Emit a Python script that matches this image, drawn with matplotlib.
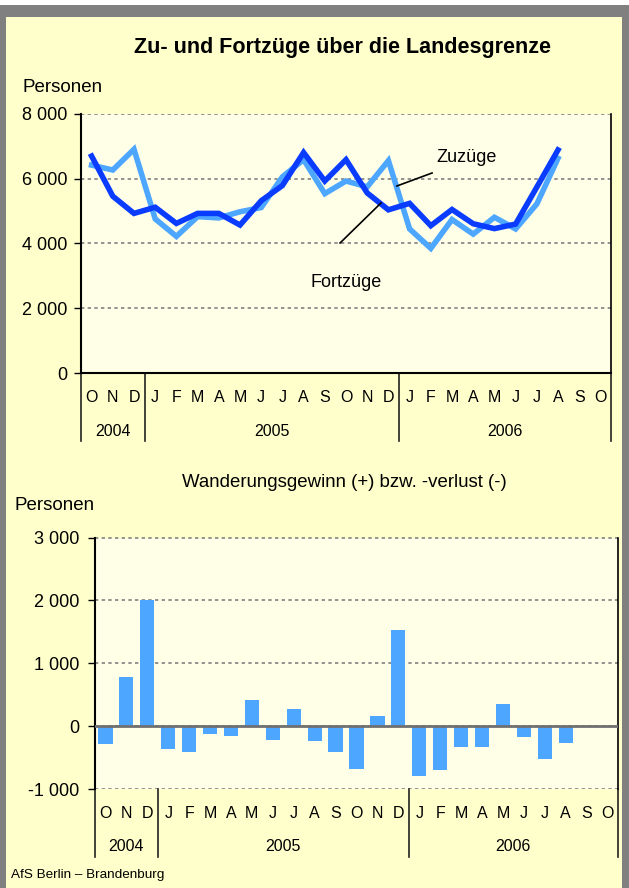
import numpy as np
import matplotlib.pyplot as plt
from matplotlib.patches import Rectangle
from matplotlib.ticker import FuncFormatter

plt.rcParams['font.family'] = ['Liberation Sans', 'DejaVu Sans']

# months Oct 2004 .. Oct 2006
months = ['O', 'N', 'D',
          'J', 'F', 'M', 'A', 'M', 'J', 'J', 'A', 'S', 'O', 'N', 'D',
          'J', 'F', 'M', 'A', 'M', 'J', 'J', 'A', 'S', 'O']
years = ['2004', '2005', '2006']
year_len = [3, 12, 10]

zuzuege = [6420, 6270, 6910, 4760, 4220, 4830, 4790, 4980, 5110, 6060, 6590, 5540,
           5930, 5750, 6560, 4450, 3850, 4740, 4290, 4810, 4450, 5220, 6630]
fortzuege = [6700, 5460, 4930, 5120, 4620, 4930, 4930, 4570, 5320, 5790, 6810, 5930,
             6590, 5560, 5040, 5240, 4550, 5050, 4610, 4460, 4600, 5740, 6890]
saldo = [-290, 780, 2000, -370, -410, -130, -160, 410, -220, 270, -240, -410,
         -680, 160, 1530, -800, -700, -330, -330, 350, -170, -530, -270]

W, H = 629, 888
bg = '#FFFFCC'
plot_bg = '#FFFFE8'
light = '#4DA6FF'
dark = '#0A3CFF'
grid_c = '#808080'

fig = plt.figure(figsize=(W / 100, H / 100), dpi=100)
fig.patch.set_facecolor('white')


def fx(px):
    return px / W


def fy(py):
    return 1 - py / H


# frame
fig.add_artist(Rectangle((0, 0), 1, fy(5), transform=fig.transFigure,
                         facecolor='#808080', edgecolor='none', zorder=-10))
fig.add_artist(Rectangle((fx(6), 0), fx(616), fy(17), transform=fig.transFigure,
                         facecolor=bg, edgecolor='none', zorder=-9))

thousands = FuncFormatter(lambda v, p: f'{int(v):,}'.replace(',', ' '))
n = len(months)
x = np.arange(len(zuzuege))


def category_axis(ax, label_off, year_off, sep_len):
    trans = ax.get_xaxis_transform()
    for i, m in enumerate(months):
        ax.annotate(m, (i, 0), xycoords=('data', 'axes fraction'),
                    xytext=(0, -label_off), textcoords='offset pixels',
                    ha='center', va='center', fontsize=11.5)
    start = 0
    bounds = [-0.5]
    for yr, ln in zip(years, year_len):
        ax.annotate(yr, ((2 * start + ln - 1) / 2, 0),
                    xycoords=('data', 'axes fraction'),
                    xytext=(0, -year_off), textcoords='offset pixels',
                    ha='center', va='center', fontsize=11.5)
        start += ln
        bounds.append(start - 0.5)
    for b in bounds:
        ax.plot([b, b], [0, -sep_len], transform=trans, clip_on=False,
                color='#222222', lw=1.2)


def style(ax, ymin, ymax, step):
    ax.set_facecolor(plot_bg)
    ax.set_xlim(-0.5, n - 0.5)
    ax.set_ylim(ymin, ymax)
    ax.set_yticks(np.arange(ymin, ymax + 1, step))
    ax.yaxis.set_major_formatter(thousands)
    ax.set_xticks([])
    ax.tick_params(axis='y', direction='out', length=5, width=1, pad=5,
                   labelsize=13, color='black')
    ax.yaxis.grid(True, color=grid_c, linestyle=(0, (2, 2)), lw=1.2)
    ax.set_axisbelow(True)
    ax.spines['top'].set_visible(False)
    ax.spines['left'].set_linewidth(1.5)
    ax.spines['right'].set_linewidth(1.2)


# --- top chart ---
ax1 = fig.add_axes([fx(81), fy(373), fx(611 - 81), (373 - 114) / H])
style(ax1, 0, 8000, 2000)
ax1.spines['bottom'].set_linewidth(1.5)
ax1.plot(x, zuzuege, color=light, lw=4, solid_joinstyle='miter', zorder=3)
ax1.plot(x, fortzuege, color=dark, lw=4, solid_joinstyle='miter', zorder=4)
ax1.text(17.7, 6670, 'Zuzüge', fontsize=13, ha='center', va='center')
ax1.plot([16.06, 14.4], [6178, 5776], color='black', lw=1.2, zorder=5)
ax1.text(12.0, 2780, 'Fortzüge', fontsize=13, ha='center', va='center')
ax1.plot([11.72, 13.65], [4016, 5251], color='black', lw=1.2, zorder=5)
category_axis(ax1, 24, 58, 68 / 259)

fig.text(fx(343), fy(47), 'Zu- und Fortzüge über die Landesgrenze',
         ha='center', va='center', fontsize=15.5, fontweight='bold')
fig.text(fx(22), fy(88), 'Personen', ha='left', va='center', fontsize=13.5)

# --- bottom chart ---
ax2 = fig.add_axes([fx(95), fy(789), fx(618 - 95), (789 - 537.5) / H])
style(ax2, -1000, 3000, 1000)
ax2.tick_params(axis='y', pad=6)
ax2.spines['bottom'].set_visible(False)
ax2.bar(x, saldo, width=0.68, color=light, zorder=3)
ax2.axhline(0, color='#707070', lw=2, zorder=4)
category_axis(ax2, 24, 57, 68 / 251.5)

fig.text(fx(344), fy(482), 'Wanderungsgewinn (+) bzw. -verlust (-)',
         ha='center', va='center', fontsize=13.4)
fig.text(fx(15), fy(505), 'Personen', ha='left', va='center', fontsize=13.5)
fig.text(fx(11), fy(875), 'AfS Berlin – Brandenburg', ha='left', va='center',
         fontsize=9.7)

fig.savefig('out.png', dpi=100, facecolor=fig.get_facecolor())
